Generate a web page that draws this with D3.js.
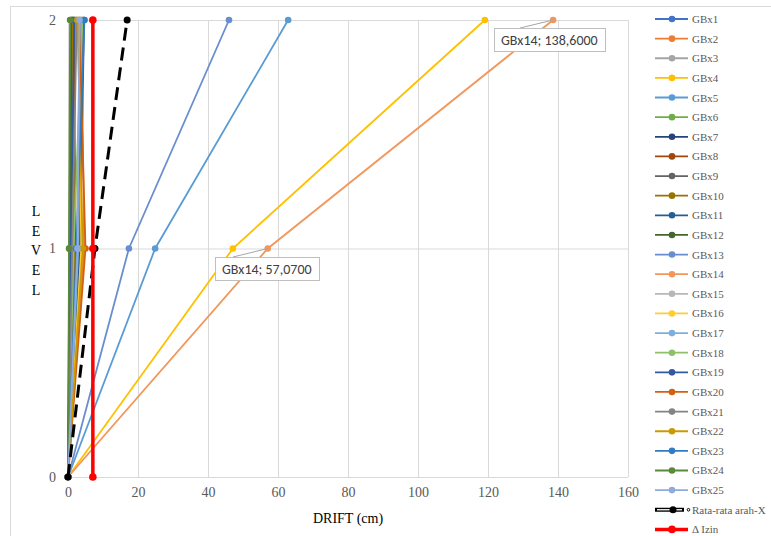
<!DOCTYPE html>
<html>
<head>
<meta charset="utf-8">
<script src="https://cdn.jsdelivr.net/npm/d3@7"></script>
<style>
  body { margin: 0; background: #fff; }
  svg { display: block; }
</style>
</head>
<body>
<svg id="chart" width="771" height="536"></svg>
<script>
// Storey levels and drift values (cm) per building model
const levels = [0, 1, 2];
const seriesNames = [
  "GBx1","GBx2","GBx3","GBx4","GBx5","GBx6","GBx7","GBx8","GBx9","GBx10",
  "GBx11","GBx12","GBx13","GBx14","GBx15","GBx16","GBx17","GBx18","GBx19","GBx20",
  "GBx21","GBx22","GBx23","GBx24","GBx25"
];
const driftValues = [
  [0, 3.1, 4.3],
  [0, 4.6, 3.8],
  [0, 1.4, 2.0],
  [0, 47.1, 119.1],
  [0, 24.9, 62.9],
  [0, 1.0, 2.3],
  [0, 0.6, 1.1],
  [0, 2.2, 1.6],
  [0, 0.9, 1.4],
  [0, 1.8, 1.2],
  [0, 3.4, 4.6],
  [0, 0.4, 0.8],
  [0, 17.4, 46.0],
  [0, 57.07, 138.6],
  [0, 2.6, 3.3],
  [0, 3.8, 2.9],
  [0, 2.9, 3.6],
  [0, 1.6, 4.1],
  [0, 0.8, 1.8],
  [0, 5.0, 3.2],
  [0, 1.2, 2.5],
  [0, 4.2, 2.7],
  [0, 2.4, 4.7],
  [0, 0.3, 0.6],
  [0, 2.7, 3.3]
];
const averageName = "Rata-rata arah-X";
const averageDrift = [0, 7.7, 16.9];
const allowName = "\u0394 Izin";
const allowDrift = [7.1, 7.1, 7.1];
const xTicks = [0, 20, 40, 60, 80, 100, 120, 140, 160];
const yTicks = [0, 1, 2];
// Labelled points: [series index, level index]
const labelled = [[13, 1], [13, 2]];

// Office-style palette for the 25 series
const palette = [
  "#4472C4","#ED7D31","#A5A5A5","#FFC000","#5B9BD5","#70AD47","#264478","#9E480E","#636363","#997300",
  "#255E91","#43682B","#698ED0","#F1975A","#B7B7B7","#FFCD33","#7CAFDD","#8CC168","#335AA1","#D26012",
  "#848484","#CC9A00","#327DC2","#5A8A39","#8FAADC"
];

const svg = d3.select("#chart");
const serif = "'Liberation Serif', 'Times New Roman', serif";
const sans = "Carlito, 'Liberation Sans', Arial, sans-serif";

// outer chart frame
svg.append("rect").attr("x", 10.5).attr("y", 6.5).attr("width", 770).attr("height", 540)
  .attr("fill", "none").attr("stroke", "#d9d9d9");

const plot = { left: 68, right: 628, top: 20, bottom: 477 };
const x = d3.scaleLinear().domain([0, 160]).range([plot.left, plot.right]);
const y = d3.scaleLinear().domain([0, 2]).range([plot.bottom, plot.top]);

// gridlines
const grid = svg.append("g");
grid.selectAll("line.v").data(xTicks).join("line")
  .attr("x1", d => x(d) + 0.5).attr("x2", d => x(d) + 0.5)
  .attr("y1", plot.top).attr("y2", plot.bottom)
  .attr("stroke", "#d9d9d9").attr("stroke-width", 1);
grid.selectAll("line.h").data(yTicks).join("line")
  .attr("x1", plot.left).attr("x2", plot.right)
  .attr("y1", d => y(d) + 0.5).attr("y2", d => y(d) + 0.5)
  .attr("stroke", "#d9d9d9").attr("stroke-width", 1);

// axes (labels only, Excel style)
const xAxis = svg.append("g").attr("transform", `translate(0,${plot.bottom})`)
  .call(d3.axisBottom(x).tickValues(xTicks).tickSize(0).tickPadding(10));
xAxis.select(".domain").remove();
xAxis.selectAll("text").attr("font-family", serif).attr("font-size", 14).attr("fill", "#595959");

const yAxis = svg.append("g").attr("transform", `translate(${plot.left},0)`)
  .call(d3.axisLeft(y).tickValues(yTicks).tickFormat(d3.format("d")).tickSize(0).tickPadding(12));
yAxis.select(".domain").remove();
yAxis.selectAll("text").attr("font-family", serif).attr("font-size", 14).attr("fill", "#595959");

// axis titles
svg.append("text").attr("x", 348).attr("y", 523).attr("text-anchor", "middle")
  .attr("font-family", serif).attr("font-size", 14).attr("fill", "#000").text("DRIFT (cm)");
const ttl = svg.append("text").attr("font-family", serif).attr("font-size", 14).attr("fill", "#000")
  .attr("text-anchor", "middle");
"LEVEL".split("").forEach((ch, i) => {
  ttl.append("tspan").attr("x", 36).attr("y", 216 + i * 19.7).text(ch);
});

const line = d3.line().x(d => x(d[0])).y(d => y(d[1]));
const pts = vals => vals.map((v, i) => [v, levels[i]]);

// model series
const series = svg.append("g");
driftValues.forEach((vals, i) => {
  const g = series.append("g");
  g.append("path").datum(pts(vals)).attr("d", line)
    .attr("fill", "none").attr("stroke", palette[i]).attr("stroke-width", 1.8);
  g.selectAll("circle").data(pts(vals)).join("circle")
    .attr("cx", d => x(d[0])).attr("cy", d => y(d[1])).attr("r", 3.3)
    .attr("fill", palette[i]);
});

// average drift (dashed black)
const avg = svg.append("g");
avg.append("path").datum(pts(averageDrift)).attr("d", line)
  .attr("fill", "none").attr("stroke", "#000").attr("stroke-width", 3)
  .attr("stroke-dasharray", "13,7");
avg.selectAll("circle").data(pts(averageDrift)).join("circle")
  .attr("cx", d => x(d[0])).attr("cy", d => y(d[1])).attr("r", 3.5).attr("fill", "#000");

// allowable drift (red)
const allow = svg.append("g");
allow.append("path").datum(pts(allowDrift)).attr("d", line)
  .attr("fill", "none").attr("stroke", "#FF0000").attr("stroke-width", 3.5);
allow.selectAll("circle").data(pts(allowDrift)).join("circle")
  .attr("cx", d => x(d[0])).attr("cy", d => y(d[1])).attr("r", 3.8).attr("fill", "#FF0000");

// data callouts
const fmt = v => v.toFixed(4).replace(".", ",");
const callouts = [
  { box: [215, 257], leaderFrom: [233, 257] },
  { box: [494, 28], leaderFrom: [520, 28] }
];
labelled.forEach(([si, li], k) => {
  const v = driftValues[si][li];
  const px = x(v), py = y(levels[li]);
  const c = callouts[k];
  const g = svg.append("g");
  g.append("line").attr("x1", c.leaderFrom[0]).attr("y1", c.leaderFrom[1])
    .attr("x2", px).attr("y2", py).attr("stroke", "#a6a6a6").attr("stroke-width", 1);
  const t = g.append("text").attr("x", c.box[0] + 7).attr("y", c.box[1] + 17)
    .attr("font-family", sans).attr("font-size", 14).attr("fill", "#404040")
    .text(`${seriesNames[si]}; ${fmt(v)}`);
  const w = t.node().getComputedTextLength();
  g.insert("rect", "text").attr("x", c.box[0] + 0.5).attr("y", c.box[1] + 0.5)
    .attr("width", Math.round(w + 14)).attr("height", 23)
    .attr("fill", "#fff").attr("stroke", "#bfbfbf");
});

// legend
const legend = svg.append("g").attr("font-family", serif).attr("font-size", 11).attr("fill", "#595959");
const step = 19.63;
seriesNames.forEach((name, i) => {
  const ly = 19 + i * step;
  legend.append("line").attr("x1", 655).attr("x2", 688).attr("y1", ly).attr("y2", ly)
    .attr("stroke", palette[i]).attr("stroke-width", 1.8);
  legend.append("circle").attr("cx", 672).attr("cy", ly).attr("r", 3.3).attr("fill", palette[i]);
  legend.append("text").attr("x", 692).attr("y", ly + 4).text(name);
});
{
  const ly = 19 + 25 * step;
  legend.append("line").attr("x1", 655).attr("x2", 684).attr("y1", ly).attr("y2", ly)
    .attr("stroke", "#000").attr("stroke-width", 4);
  legend.append("line").attr("x1", 657).attr("x2", 682).attr("y1", ly).attr("y2", ly)
    .attr("stroke", "#fff").attr("stroke-width", 1.3);
  legend.append("circle").attr("cx", 673).attr("cy", ly).attr("r", 3.5).attr("fill", "#000");
  legend.append("circle").attr("cx", 688.5).attr("cy", ly).attr("r", 1.3)
    .attr("fill", "#fff").attr("stroke", "#000").attr("stroke-width", 1);
  legend.append("text").attr("x", 692).attr("y", ly + 4).text(averageName);
}
{
  const ly = 19 + 26 * step;
  legend.append("line").attr("x1", 655).attr("x2", 688).attr("y1", ly).attr("y2", ly)
    .attr("stroke", "#FF0000").attr("stroke-width", 3.5);
  legend.append("circle").attr("cx", 672).attr("cy", ly).attr("r", 3.8).attr("fill", "#FF0000");
  legend.append("text").attr("x", 692).attr("y", ly + 4).text(allowName);
}
</script>
</body>
</html>
